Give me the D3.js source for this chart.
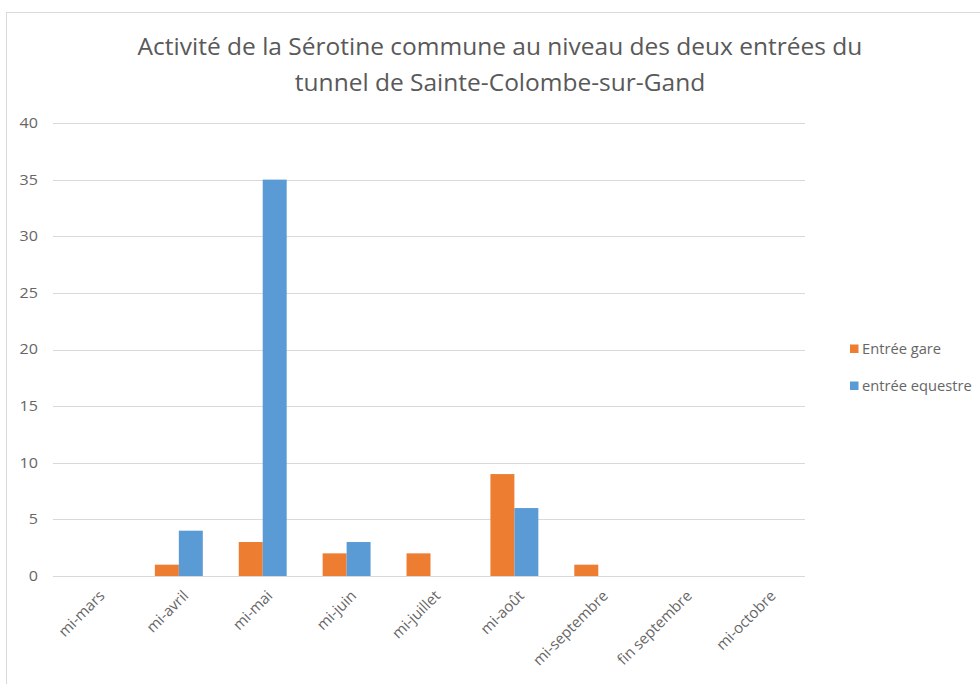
<!DOCTYPE html>
<html>
<head>
<meta charset="utf-8">
<script src="https://cdn.jsdelivr.net/npm/d3@7/dist/d3.min.js"></script>
<style>
  html, body { margin: 0; padding: 0; background: #fff; }
  svg { display: block; font-family: "Open Sans", "Noto Sans", sans-serif; }
</style>
</head>
<body>
<svg id="chart" width="980" height="684"></svg>
<script>
// Survey periods
const categories = ["mi-mars", "mi-avril", "mi-mai", "mi-juin", "mi-juillet", "mi-août", "mi-septembre", "fin septembre", "mi-octobre"];
// Bat passes recorded at each entrance
const seriesNames = ["Entrée gare", "entrée equestre"];
const gareValues = [0, 1, 3, 2, 2, 9, 1, 0, 0];
const equestreValues = [0, 4, 35, 3, 0, 6, 0, 0, 0];
const yTicks = [0, 5, 10, 15, 20, 25, 30, 35, 40];
const titleLines = ["Activité de la Sérotine commune au niveau des deux entrées du", "tunnel de Sainte-Colombe-sur-Gand"];
const colors = ["#ED7D31", "#5B9BD5"];

const svg = d3.select("#chart");

// Chart area border
svg.append("rect")
  .attr("x", 6.5).attr("y", 12.5).attr("width", 990).attr("height", 700)
  .attr("fill", "#fff").attr("stroke", "#d9d9d9").attr("stroke-width", 1);

const plot = { left: 53, right: 808, top: 123, bottom: 576 };

const x = d3.scaleBand().domain(categories).range([plot.left, plot.right]);
const groupWidth = x.bandwidth() / 1.75;
const xInner = d3.scaleBand().domain(seriesNames).range([0, groupWidth]);
const y = d3.scaleLinear().domain([0, 40]).range([plot.bottom, plot.top]);

// Horizontal gridlines
svg.append("g").selectAll("line").data(yTicks).join("line")
  .attr("x1", plot.left).attr("x2", plot.right - 3)
  .attr("y1", d => Math.round(y(d)) + 0.5).attr("y2", d => Math.round(y(d)) + 0.5)
  .attr("stroke", "#d9d9d9").attr("stroke-width", 1);

// Y axis labels
const yAxis = svg.append("g")
  .attr("transform", `translate(${plot.left - 15},0)`)
  .call(d3.axisLeft(y).tickValues(yTicks).tickSize(0).tickPadding(0));
yAxis.select(".domain").remove();
yAxis.selectAll("text")
  .attr("fill", "#666").attr("font-size", 14)
  .attr("font-family", "'Open Sans', sans-serif")
  .attr("transform", "scale(1.15,1)")
  .attr("x", 0);

// Bars
const data = categories.map((c, i) => ({ cat: c, values: [gareValues[i], equestreValues[i]] }));
const groups = svg.append("g").selectAll("g").data(data).join("g")
  .attr("transform", d => `translate(${x(d.cat) + (x.bandwidth() - groupWidth) / 2},0)`);
groups.selectAll("rect")
  .data(d => d.values.map((v, k) => ({ name: seriesNames[k], v, k })))
  .join("rect")
  .attr("x", d => xInner(d.name))
  .attr("width", xInner.bandwidth())
  .attr("y", d => y(d.v))
  .attr("height", d => y(0) - y(d.v))
  .attr("fill", d => colors[d.k]);

// Category labels, rotated
const xAxis = svg.append("g")
  .attr("transform", `translate(0,${plot.bottom + 12})`)
  .call(d3.axisBottom(x).tickSize(0).tickPadding(0));
xAxis.select(".domain").remove();
xAxis.selectAll("text")
  .attr("fill", "#666").attr("font-size", 15)
  .attr("font-family", "'Open Sans', sans-serif")
  .attr("text-anchor", "end")
  .attr("dy", "0.35em")
  .attr("transform", "translate(7,5) rotate(-45)");

// Title
svg.append("g").selectAll("text").data(titleLines).join("text")
  .attr("x", 500).attr("y", (d, i) => 55 + i * 36)
  .attr("text-anchor", "middle")
  .attr("fill", "#595959").attr("font-size", 24.5)
  .text(d => d);

// Legend
const legend = svg.append("g").selectAll("g").data(seriesNames).join("g")
  .attr("transform", (d, i) => `translate(850,${349 + i * 37})`);
legend.append("rect")
  .attr("x", 0).attr("y", -4.5).attr("width", 8.5).attr("height", 8.5)
  .attr("fill", (d, i) => colors[i]);
legend.append("text")
  .attr("x", 0).attr("y", 0).attr("dy", "0.35em")
  .attr("transform", "translate(12,0) scale(1.05,1)")
  .attr("fill", "#666").attr("font-size", 14)
  .text(d => d);
</script>
</body>
</html>
